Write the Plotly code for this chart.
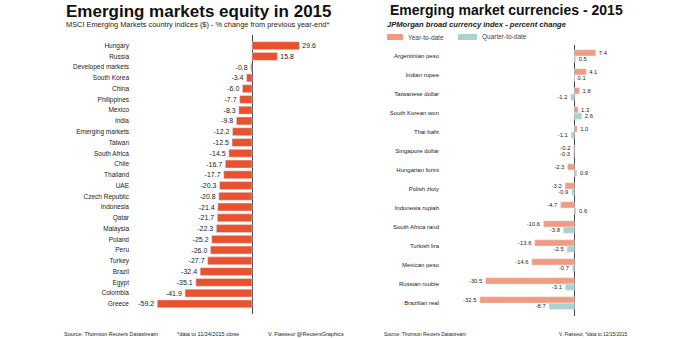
import plotly.graph_objects as go

# ---------------- data ----------------
eq_countries = ["Hungary", "Russia", "Developed markets", "South Korea", "China", "Philippines",
                "Mexico", "India", "Emerging markets", "Taiwan", "South Africa", "Chile",
                "Thailand", "UAE", "Czech Republic", "Indonesia", "Qatar", "Malaysia",
                "Poland", "Peru", "Turkey", "Brazil", "Egypt", "Colombia", "Greece"]
eq_change = [29.6, 15.8, -0.8, -3.4, -6.0, -7.7, -8.3, -9.8, -12.2, -12.5, -14.5, -16.7,
             -17.7, -20.3, -20.8, -21.4, -21.7, -22.3, -25.2, -26.0, -27.7, -32.4, -35.1,
             -41.9, -59.2]

fx_currencies = ["Argentinian peso", "Indian rupee", "Taiwanese dollar", "South Korean won",
                 "Thai baht", "Singapore dollar", "Hungarian forint", "Polish zloty",
                 "Indonesia rupiah", "South Africa rand", "Turkish lira", "Mexican peso",
                 "Russian rouble", "Brazilian real"]
fx_ytd = [7.4, 4.1, 1.8, 1.3, 1.0, -0.2, -2.3, -3.2, -4.7, -10.6, -13.6, -14.6, -30.5, -32.5]
fx_qtd = [0.5, 0.1, -1.2, 2.6, -1.1, -0.3, 0.9, -0.9, 0.6, -3.8, -2.5, -0.7, -3.1, -8.7]

W, H = 692, 338
def px(x):
    return x / W
def py(y):
    return 1 - y / H

FONT = "Liberation Sans, Arial, sans-serif"
C_EQ = "#E8522F"
C_YTD = "#F39B7F"
C_QTD = "#A9D3CE"
TXT = "#222222"

fig = go.Figure()

fig.add_trace(go.Bar(
    y=eq_countries, x=eq_change, orientation="h", marker_color=C_EQ, width=0.74,
    text=[f"{v:.1f}" for v in eq_change], textposition="outside", cliponaxis=False,
    textfont=dict(size=7, color=TXT, family=FONT), xaxis="x", yaxis="y", showlegend=False,
    hoverinfo="x+y"))

fig.add_trace(go.Bar(
    y=fx_currencies, x=fx_ytd, orientation="h", marker_color=C_YTD, name="Year-to-date",
    text=[f"{v:.1f}" for v in fx_ytd], textposition="outside", cliponaxis=False,
    textfont=dict(size=6.5, color=TXT, family=FONT), xaxis="x2", yaxis="y2", showlegend=False))
fig.add_trace(go.Bar(
    y=fx_currencies, x=fx_qtd, orientation="h", marker_color=C_QTD, name="Quarter-to-date",
    text=[f"{v:.1f}" for v in fx_qtd], textposition="outside", cliponaxis=False,
    textfont=dict(size=6.5, color=TXT, family=FONT), xaxis="x2", yaxis="y2", showlegend=False))

axis_common = dict(showgrid=False, showticklabels=False, zeroline=True, zerolinecolor="#444444",
                   zerolinewidth=1, showline=False, ticks="", fixedrange=True)

fig.update_layout(
    width=W, height=H, margin=dict(l=0, r=0, t=0, b=0),
    paper_bgcolor="white", plot_bgcolor="white",
    barmode="group", bargap=0.34, bargroupgap=0,
    font=dict(family=FONT, color=TXT),
    xaxis=dict(domain=[px(130), px(340)], range=[(130 - 252) / 1.6, (340 - 252) / 1.6],
               anchor="y", **axis_common),
    yaxis=dict(domain=[py(314), py(35)], range=[24.94, -0.99], type="category",
               showgrid=False, showline=False, ticks="", zeroline=False,
               tickfont=dict(size=6.5, color=TXT, family=FONT), anchor="x", fixedrange=True),
    xaxis2=dict(domain=[px(440), px(650)], range=[(440 - 574.3) / 2.91, (650 - 574.3) / 2.91],
                anchor="y2", **axis_common),
    yaxis2=dict(domain=[py(316), py(45)], range=[13.68, -0.58], type="category",
                showgrid=False, showline=False, ticks="", zeroline=False,
                tickfont=dict(size=6, color=TXT, family=FONT), anchor="x2", fixedrange=True),
)

ann = []
def text(x, y, s, size, bold=False, italic=False, color=TXT):
    if bold:
        s = f"<b>{s}</b>"
    if italic:
        s = f"<i>{s}</i>"
    ann.append(dict(x=px(x), y=py(y), xref="paper", yref="paper", text=s, showarrow=False,
                    xanchor="left", yanchor="middle", font=dict(size=size, color=color, family=FONT)))

# left headings
text(64, 11, "Emerging markets equity in 2015", 17, bold=True, color="#111111")
text(64, 24, "MSCI Emerging Markets country indices ($) - % change from previous year-end*", 7.4)
# right headings
text(388, 10, "Emerging market currencies - 2015", 14, bold=True, color="#111111")
text(385, 24, "JPMorgan broad currency index - percent change", 7.6, bold=True, italic=True)
text(406, 37, "Year-to-date", 6.5, color="#444444")
text(480, 37, "Quarter-to-date", 6.5, color="#444444")
# footers
text(62, 334, "Source: Thomson Reuters Datastream", 5.5)
text(175, 334, "*data to 11/24/2015 close", 5.5)
text(266, 334, "V. Flasseur @ReutersGraphics", 5.5)
text(382, 334, "Source: Thomson Reuters Datastream", 4.8)
text(557, 334, "V. Flasseur, *data to 12/15/2015", 4.8)

fig.update_layout(annotations=ann)

fig.update_layout(shapes=[
    dict(type="rect", xref="paper", yref="paper", x0=px(387), x1=px(403), y0=py(40), y1=py(34),
         fillcolor=C_YTD, line_width=0),
    dict(type="rect", xref="paper", yref="paper", x0=px(458), x1=px(477), y0=py(40), y1=py(34),
         fillcolor=C_QTD, line_width=0),
])

fig.write_html("out.html")
